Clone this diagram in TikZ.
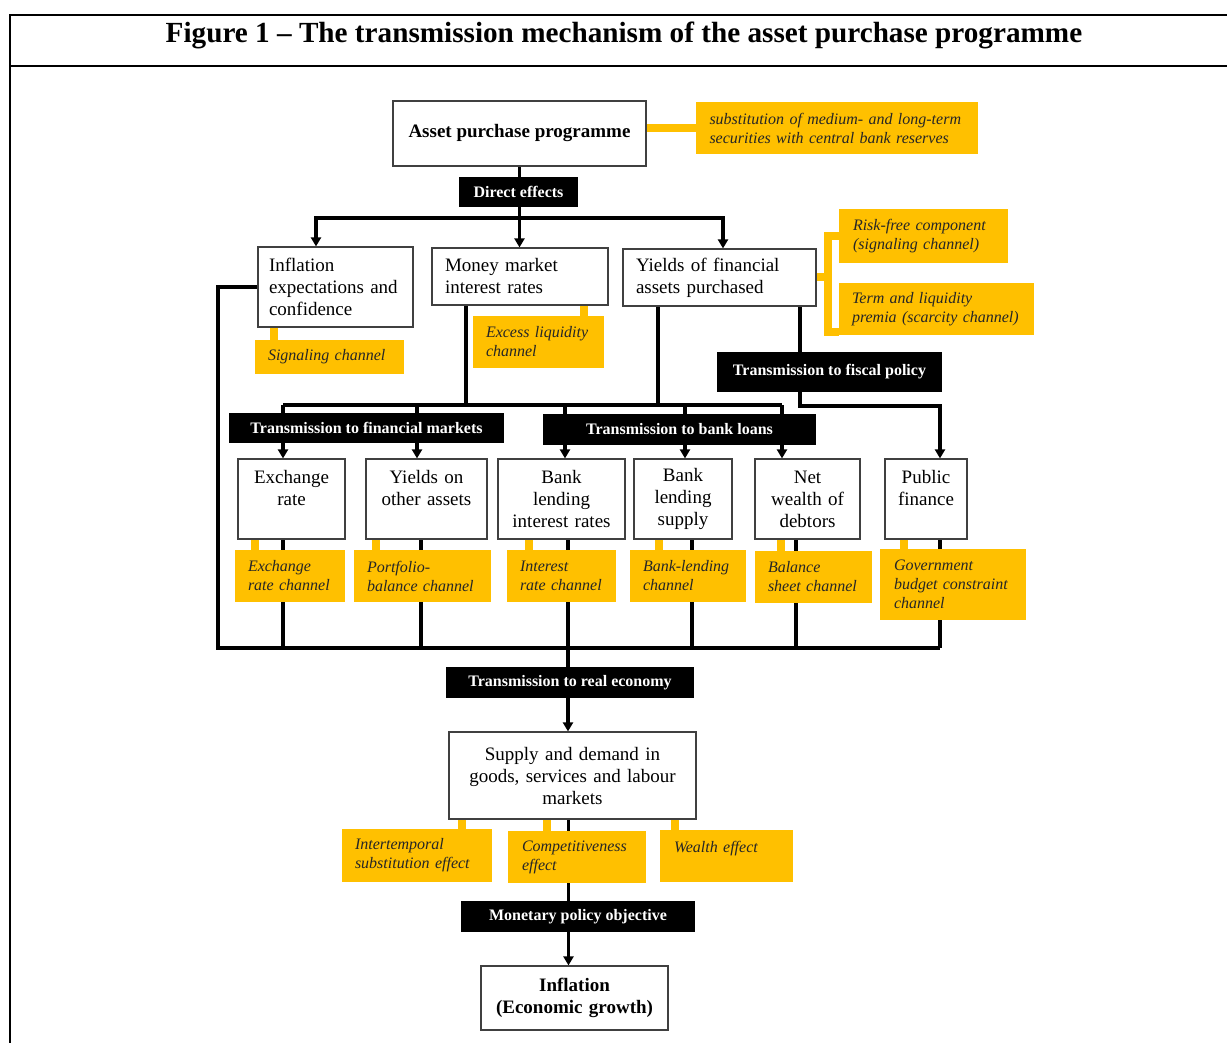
\documentclass[tikz,border=0pt]{standalone}
\usepackage{fontspec}
\setmainfont{Liberation Serif}
\usetikzlibrary{arrows.meta,backgrounds}
\definecolor{chanyel}{HTML}{FFC000}
\tikzset{
  box/.style={draw=black!75, line width=1.2pt, fill=white, inner sep=0pt,
    font=\fontsize{19}{22}\selectfont},
  chan/.style={fill=chanyel, text=black!85, inner sep=0pt, align=left,
    font=\itshape\fontsize{16}{19}\selectfont},
  bar/.style={fill=black, text=white, inner sep=0pt,
    font=\bfseries\fontsize{16}{18}\selectfont},
  sz/.style 2 args={minimum width=#1, minimum height=#2},
  conn/.style={line width=3.2pt},
  arr/.style={-{Triangle[length=9pt,width=10pt]}},
  ylink/.style={chanyel, line width=8pt},
}
\begin{document}
\begin{tikzpicture}[x=1pt,y=-1pt]
            \useasboundingbox (0,0) rectangle (1227,1043);
            \draw[line width=1.6pt] (1227,15) -- (10,15) -- (10,1043);
            \draw[line width=1.6pt] (10,66) -- (1227,66);
            \node[font=\bfseries\fontsize{29.2}{32}\selectfont] (title) at (624,35)
                {Figure 1 -- The transmission mechanism of the asset purchase programme};

            \node[box, sz={253}{65}, font=\bfseries\fontsize{19}{22}\selectfont] (app) at (519.5,133.5) {Asset purchase programme};
            \node[chan, sz={282}{52}, text width=255] (sub) at (837,128) {substitution of medium- and long-term\\securities with central bank reserves};
            \node[bar, sz={119}{30}] (direct) at (518.5,192) {Direct effects};

            \node[box, sz={155}{80}, text width=133, align=left] (infl) at (335.5,287) {Inflation\\expectations and\\confidence};
            \node[box, sz={176}{57}, text width=150, align=left] (mm) at (520,276.5) {Money market\\interest rates};
            \node[box, sz={193}{57}, text width=167, align=left] (yfa) at (719.5,277.5) {Yields of financial\\assets purchased};
            \node[chan, sz={149}{34}, text width=123] (sig) at (329.5,357) {Signaling channel};
            \node[chan, sz={131}{52}, text width=105] (exl) at (538.5,342) {Excess liquidity\\channel};
            \node[chan, sz={169}{54}, text width=141] (rf) at (923.5,236) {Risk-free component\\(signaling channel)};
            \node[chan, sz={195}{52}, text width=169] (tlp) at (936.5,309) {Term and liquidity\\premia (scarcity channel)};

            \node[bar, sz={225}{40}] (tfp) at (829.5,372) {Transmission to fiscal policy};
            \node[bar, sz={275}{30}] (tfm) at (366.5,428) {Transmission to financial markets};
            \node[bar, sz={273}{31}] (tbl) at (679.5,429.5) {Transmission to bank loans};

            \node[box, sz={107}{80}, text width=101, align=center] (er) at (291.5,499) {Exchange\\rate\\~};
            \node[box, sz={121}{80}, text width=115, align=center] (yoa) at (426.5,499) {Yields on\\other assets\\~};
            \node[box, sz={127}{80}, text width=121, align=center] (bli) at (561.5,499) {Bank\\lending\\interest rates};
            \node[box, sz={98}{80}, text width=92, align=center] (bls) at (683,499) {Bank\\lending\\supply};
            \node[box, sz={105}{80}, text width=99, align=center] (nwd) at (807.5,499) {Net\\wealth of\\debtors};
            \node[box, sz={82}{80}, text width=76, align=center] (pf) at (926,499) {Public\\finance\\~};

            \node[chan, sz={110}{52}, text width=84] (erc) at (290,576) {Exchange\\rate channel};
            \node[chan, sz={137}{52}, text width=111] (pbc) at (422.5,576) {Portfolio-\\balance channel};
            \node[chan, sz={109}{52}, text width=83] (irc) at (561.5,576) {Interest\\rate channel};
            \node[chan, sz={116}{52}, text width=90] (blc) at (688,576) {Bank-lending\\channel};
            \node[chan, sz={117}{52}, text width=91] (bsc) at (813.5,577) {Balance\\sheet channel};
            \node[chan, sz={146}{71}, text width=118] (gbc) at (953,584.5) {Government\\budget constraint\\channel};

            \node[bar, sz={248}{31}] (tre) at (570,682.5) {Transmission to real economy};
            \node[box, sz={247}{87}, text width=240, align=center] (supply) at (572.5,775.5) {Supply and demand in\\goods, services and labour\\markets};
            \node[chan, sz={150}{53}, text width=124] (inter) at (417,855.5) {Intertemporal\\substitution effect};
            \node[chan, sz={138}{52}, text width=110] (comp) at (577,857) {Competitiveness\\effect};
            \node[chan, sz={133}{52}, text width=105] (wealth) at (726.5,856) {Wealth effect\\~};
            \node[bar, sz={234}{31}] (mpo) at (578,916.5) {Monetary policy objective};
            \node[box, sz={187}{64}, text width=180, align=center, font=\bfseries\fontsize{19}{22}\selectfont] (goal) at (574.5,998) {Inflation\\(Economic growth)};

            \begin{scope}[on background layer]
                \coordinate (top) at (519.5,218);
                \coordinate (upbus) at (283,405);
                \coordinate (fk) at (800,406);
                \coordinate (lowL) at (218,648);
                \coordinate (lowR) at (940,648);
                \coordinate (mid) at (568,648);
                \draw[conn] (app.south) -- (top);
                \draw[conn,arr] (top) -| ([xshift=-19.5pt]infl.north);
                \draw[conn,arr] (top) -- (top |- mm.north);
                \draw[conn,arr] (top) -| ([xshift=3.5pt]yfa.north);
                \draw[conn] (infl.west) -| (lowL) -- (lowR);
                \draw[conn] ([xshift=-54pt]mm.south) -- ([xshift=-54pt]mm.south |- upbus);
                \draw[conn] ([xshift=-61.5pt]yfa.south) -- ([xshift=-61.5pt]yfa.south |- upbus);
                \draw[conn] (upbus) -- ([xshift=-25.5pt]nwd.north |- upbus);
                \foreach \n/\s in {er/-8.5, yoa/-9.5, bli/3.5, bls/2, nwd/-25.5}
                    \draw[conn,arr] ([xshift=\s pt]\n.north |- upbus) -- ([xshift=\s pt]\n.north);
                \draw[conn,arr] ([xshift=80.5pt]yfa.south) -- (fk) -| ([xshift=14pt]pf.north);
                \foreach \n/\s in {er/-8.5, yoa/-5.5, bli/6.5, bls/9, nwd/-11.5, pf/14}
                    \draw[conn] ([xshift=\s pt]\n.south) -- ([xshift=\s pt]\n.south |- lowL);
                \draw[conn,arr] (mid) -- (mid |- supply.north);
                \draw[conn,arr] ([xshift=-4pt]supply.south) -- ([xshift=-4pt]supply.south |- goal.north);

                \draw[ylink] (app.east |- sub.west) -- (sub.west);
                \draw[ylink] (yfa.east) -- ++(12,0);
                \draw[ylink] (rf.west) -| ([xshift=-11pt,yshift=3pt]tlp.south west) -- ([yshift=3pt]tlp.south west);
                \draw[ylink] ([xshift=-25pt]mm.south east) -- ([xshift=-25pt]mm.south east |- exl.north);
                \foreach \n/\m/\s in {infl/sig/17, er/erc/18, yoa/pbc/11, bli/irc/32, bls/blc/26,
                        nwd/bsc/27, pf/gbc/20, supply/inter/14, supply/comp/99, supply/wealth/227}
                    \draw[ylink] ([xshift=\s pt]\n.south west) -- ([xshift=\s pt]\n.south west |- \m.north);
            \end{scope}
        \end{tikzpicture}
\end{document}
